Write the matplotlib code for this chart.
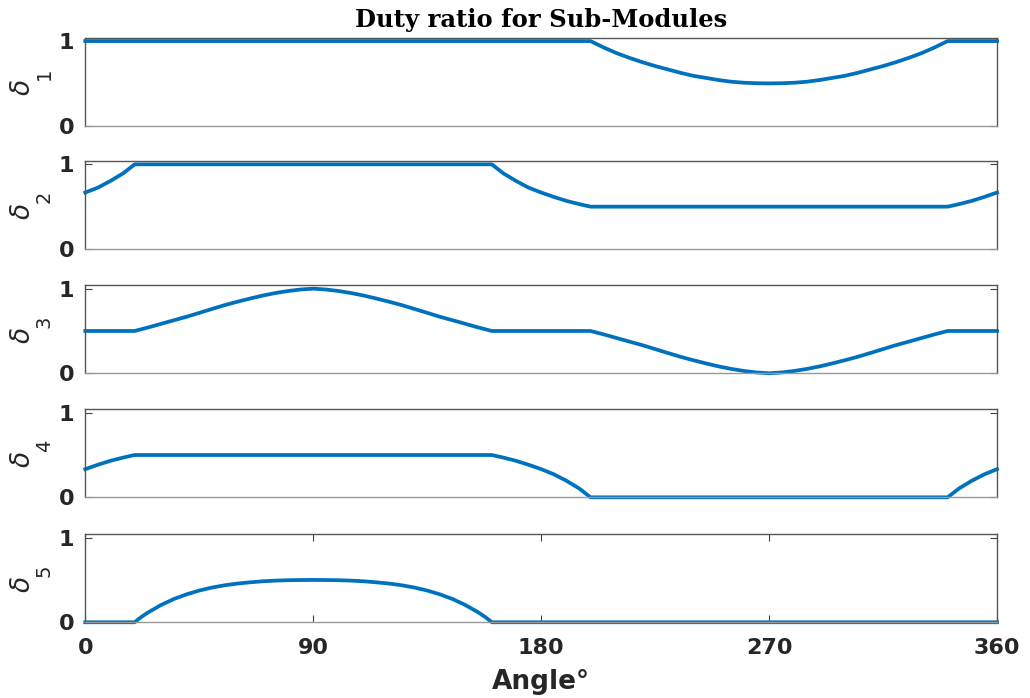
import matplotlib
matplotlib.use("Agg")
import matplotlib.pyplot as plt

# Duty ratio of each sub-module over one fundamental period (degrees)
theta_1 = [0, 199.5, 205, 210, 215, 220, 225, 230, 235, 240, 245, 250, 255, 260, 265, 270,
           275, 280, 285, 290, 295, 300, 305, 310, 315, 320, 325, 330, 335, 340.5, 360]
delta_1 = [1, 1, 0.92, 0.855, 0.8, 0.75, 0.705, 0.665, 0.625, 0.59, 0.565, 0.54, 0.52, 0.508, 0.502, 0.5,
           0.502, 0.508, 0.52, 0.54, 0.565, 0.59, 0.625, 0.665, 0.705, 0.75, 0.8, 0.855, 0.92, 1, 1]

theta_2 = [0, 5, 10, 15, 19.5, 160.5, 165, 170, 175, 180, 185, 190, 195, 199.5,
           340.5, 345, 350, 355, 360]
delta_2 = [0.667, 0.725, 0.805, 0.895, 1, 1, 0.895, 0.805, 0.725, 0.667, 0.615, 0.568, 0.53, 0.5,
           0.5, 0.53, 0.568, 0.615, 0.667]

theta_3 = [0, 19.5, 25, 30, 35, 40, 45, 50, 55, 60, 65, 70, 75, 80, 85, 90,
           95, 100, 105, 110, 115, 120, 125, 130, 135, 140, 145, 150, 155, 160.5,
           199.5, 205, 210, 215, 220, 225, 230, 235, 240, 245, 250, 255, 260, 265, 270,
           275, 280, 285, 290, 295, 300, 305, 310, 315, 320, 325, 330, 335, 340.5, 360]
delta_3 = [0.5, 0.5, 0.543, 0.585, 0.627, 0.668, 0.714, 0.76, 0.805, 0.845, 0.883, 0.918, 0.948, 0.972, 0.99, 1.0,
           0.99, 0.972, 0.948, 0.918, 0.883, 0.845, 0.805, 0.76, 0.714, 0.668, 0.627, 0.585, 0.543, 0.5,
           0.5, 0.457, 0.415, 0.373, 0.332, 0.286, 0.24, 0.195, 0.155, 0.117, 0.082, 0.052, 0.028, 0.01, 0,
           0.01, 0.028, 0.052, 0.082, 0.117, 0.155, 0.195, 0.24, 0.286, 0.332, 0.373, 0.415, 0.457, 0.5, 0.5]

theta_4 = [0, 5, 10, 15, 19.5, 160.5, 165, 170, 175, 180, 185, 190, 195, 199.5,
           340.5, 345, 350, 355, 360]
delta_4 = [0.333, 0.385, 0.432, 0.47, 0.5, 0.5, 0.47, 0.432, 0.385, 0.333, 0.272, 0.195, 0.105, 0,
           0, 0.105, 0.195, 0.272, 0.333]

theta_5 = [0, 19.5, 22, 25, 30, 35, 40, 45, 50, 55, 60, 65, 70, 75, 80, 85, 90,
           95, 100, 105, 110, 115, 120, 125, 130, 135, 140, 145, 150, 155, 158, 160.5, 360]
delta_5 = [0, 0, 0.06, 0.12, 0.205, 0.275, 0.33, 0.375, 0.41, 0.437, 0.457, 0.472, 0.484, 0.492, 0.497, 0.499, 0.5,
           0.499, 0.497, 0.492, 0.484, 0.472, 0.457, 0.437, 0.41, 0.375, 0.33, 0.275, 0.205, 0.12, 0.06, 0, 0]

series = [(theta_1, delta_1), (theta_2, delta_2), (theta_3, delta_3),
          (theta_4, delta_4), (theta_5, delta_5)]
sub_labels = ["1", "2", "3", "4", "5"]
xticks = [0, 90, 180, 270, 360]
yticks = [0, 1]

blue = "#0072BD"
text_color = "#262626"
tick_font = {"family": "DejaVu Sans", "weight": "bold", "size": 16}

fig = plt.figure(figsize=(10.30, 6.98), dpi=100)

# axes boxes in figure fractions, top panel first
bottoms = [0.8199, 0.6433, 0.4652, 0.2875, 0.1085]
left, width, height = 0.0828, 0.8852, 0.1261

for i, (th, d) in enumerate(series):
    ax = fig.add_axes([left, bottoms[i], width, height])
    ax.plot(th, d, color=blue, lw=2.7, clip_on=False, solid_joinstyle="round")
    ax.set_xlim(0, 360)
    ax.set_ylim(0, 1.04)
    ax.set_yticks(yticks)
    ax.set_yticklabels([str(t) for t in yticks], fontdict=tick_font)
    ax.tick_params(axis="both", direction="in", length=5, width=0.8,
                   top=True, right=True, colors="#404040", labelcolor=text_color)
    ax.tick_params(axis="y", pad=8)
    if i < 4:
        ax.set_xticks([])
    else:
        ax.set_xticks(xticks)
        ax.set_xticklabels([str(t) for t in xticks], fontdict=tick_font)
        ax.tick_params(axis="x", pad=11)
        ax.set_xlabel("Angle°", fontsize=19, fontweight="bold",
                      family="DejaVu Sans", color=text_color, labelpad=8)
    for side in ["left", "right", "top"]:
        ax.spines[side].set_color("#555555")
    ax.spines["bottom"].set_color("#999999")
    for sp in ax.spines.values():
        sp.set_linewidth(1.0)

    # y label: delta with a dropped subscript, written vertically
    ax.text(-0.068, 0.43, r"$\delta$", transform=ax.transAxes, rotation=90,
            fontsize=19, color=text_color, ha="center", va="center")
    ax.text(-0.045, 0.59, sub_labels[i], transform=ax.transAxes, rotation=90,
            fontsize=14, color=text_color, ha="center", va="center")

    if i == 0:
        ax.set_title("Duty ratio for Sub-Modules", family="DejaVu Serif",
                     fontweight="bold", fontsize=17.5, pad=8)

fig.savefig("out.png", dpi=100)
